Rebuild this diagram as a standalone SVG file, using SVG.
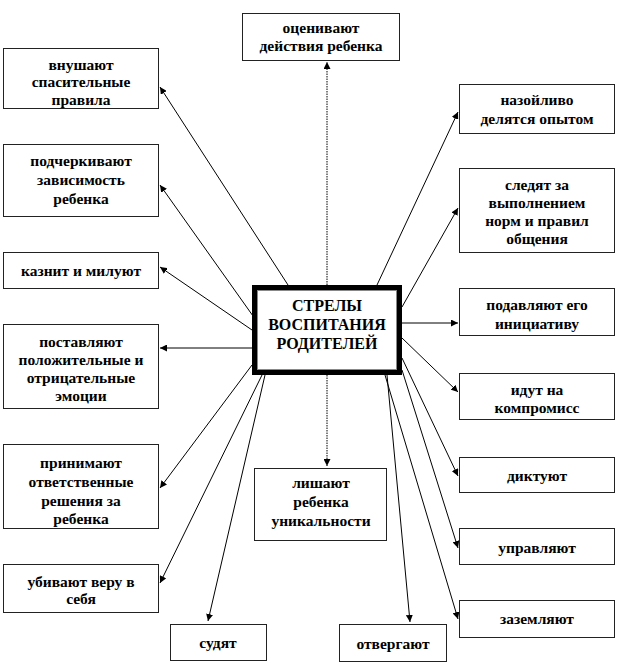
<svg xmlns="http://www.w3.org/2000/svg" width="618" height="672" viewBox="0 0 618 672">
<defs>
<style>
.box{fill:#fff;stroke:#222;stroke-width:1}
.t{font-family:'Liberation Serif',serif;font-weight:bold;font-size:15.5px;fill:#000;text-anchor:middle;dominant-baseline:central}
.ct{font-family:'Liberation Serif',serif;font-weight:bold;font-size:16px;fill:#000;text-anchor:middle;dominant-baseline:central}
.c{stroke:#000;stroke-width:1;fill:none;marker-end:url(#ah)}
.d{stroke-dasharray:1.5,1}
</style>
<marker id="ah" viewBox="0 0 10 10" refX="10" refY="5" markerWidth="7" markerHeight="7" markerUnits="userSpaceOnUse" orient="auto">
<path d="M0,0 L10,5 L0,10 z" fill="#000"/>
</marker>
</defs>
<rect width="618" height="672" fill="#fff"/>
<g id="connectors">
<line class="c d" x1="327" y1="285" x2="327" y2="62"/>
<line class="c d" x1="327" y1="375" x2="327" y2="466"/>
<line class="c" x1="288" y1="285" x2="160" y2="87"/>
<line class="c" x1="253" y1="316" x2="160" y2="185"/>
<line class="c" x1="252" y1="330" x2="160" y2="267"/>
<line class="c" x1="252" y1="348" x2="160" y2="348"/>
<line class="c" x1="252" y1="365" x2="160" y2="488"/>
<line class="c" x1="262" y1="375" x2="160" y2="583"/>
<line class="c" x1="265" y1="375" x2="208" y2="621"/>
<line class="c" x1="377" y1="285" x2="458" y2="112"/>
<line class="c" x1="402" y1="307" x2="458" y2="208"/>
<line class="c" x1="402" y1="323" x2="458" y2="323"/>
<line class="c" x1="402" y1="338" x2="458" y2="392"/>
<line class="c" x1="402" y1="358" x2="458" y2="476"/>
<line class="c" x1="402" y1="370" x2="458" y2="548"/>
<line class="c" x1="385" y1="375" x2="458" y2="619"/>
<line class="c" x1="387" y1="375" x2="410" y2="622"/>
</g>
<g id="center" font-family="Liberation Serif" font-weight="bold">
<rect x="254.5" y="287.5" width="145" height="85" fill="#fff" stroke="#000" stroke-width="5"/>
<rect x="257.5" y="290.5" width="139" height="79" fill="none" stroke="#888" stroke-width="1"/>
<text class="ct" x="327" y="305">СТРЕЛЫ</text>
<text class="ct" x="327" y="324">ВОСПИТАНИЯ</text>
<text class="ct" x="327" y="343">РОДИТЕЛЕЙ</text>
</g>
<g id="n-ocenivayut" font-family="Liberation Serif" font-weight="bold">
<rect class="box" x="242.5" y="13.5" width="157" height="47"/>
<text class="t" x="321" y="27">оценивают</text>
<text class="t" x="321" y="45">действия ребенка</text>
</g>
<g id="n-vnushayut" font-family="Liberation Serif" font-weight="bold">
<rect class="box" x="3.5" y="48.5" width="155" height="60"/>
<text class="t" x="81" y="64">внушают</text>
<text class="t" x="81" y="81">спасительные</text>
<text class="t" x="81" y="99">правила</text>
</g>
<g id="n-podcherkivayut" font-family="Liberation Serif" font-weight="bold">
<rect class="box" x="3.5" y="144.5" width="155" height="72"/>
<text class="t" x="81" y="160">подчеркивают</text>
<text class="t" x="81" y="179">зависимость</text>
<text class="t" x="81" y="198">ребенка</text>
</g>
<g id="n-kaznit" font-family="Liberation Serif" font-weight="bold">
<rect class="box" x="3.5" y="252.5" width="155" height="36"/>
<text class="t" x="81" y="270">казнит и милуют</text>
</g>
<g id="n-postavlyayut" font-family="Liberation Serif" font-weight="bold">
<rect class="box" x="3.5" y="324.5" width="155" height="84"/>
<text class="t" x="81" y="341">поставляют</text>
<text class="t" x="81" y="359">положительные и</text>
<text class="t" x="81" y="377">отрицательные</text>
<text class="t" x="81" y="395">эмоции</text>
</g>
<g id="n-prinimayut" font-family="Liberation Serif" font-weight="bold">
<rect class="box" x="3.5" y="444.5" width="155" height="84"/>
<text class="t" x="81" y="462">принимают</text>
<text class="t" x="81" y="481">ответственные</text>
<text class="t" x="81" y="500">решения за</text>
<text class="t" x="81" y="518">ребенка</text>
</g>
<g id="n-ubivayut" font-family="Liberation Serif" font-weight="bold">
<rect class="box" x="3.5" y="564.5" width="155" height="48"/>
<text class="t" x="81" y="581">убивают веру в</text>
<text class="t" x="81" y="598">себя</text>
</g>
<g id="n-sudyat" font-family="Liberation Serif" font-weight="bold">
<rect class="box" x="170.5" y="624.5" width="96" height="36"/>
<text class="t" x="218" y="642">судят</text>
</g>
<g id="n-lishayut" font-family="Liberation Serif" font-weight="bold">
<rect class="box" x="254.5" y="468.5" width="132" height="72"/>
<text class="t" x="321" y="482">лишают</text>
<text class="t" x="321" y="501">ребенка</text>
<text class="t" x="321" y="520">уникальности</text>
</g>
<g id="n-otvergayut" font-family="Liberation Serif" font-weight="bold">
<rect class="box" x="339.5" y="624.5" width="107" height="37"/>
<text class="t" x="393" y="643">отвергают</text>
</g>
<g id="n-nazoylivo" font-family="Liberation Serif" font-weight="bold">
<rect class="box" x="459.5" y="84.5" width="155" height="49"/>
<text class="t" x="537" y="99">назойливо</text>
<text class="t" x="537" y="118">делятся опытом</text>
</g>
<g id="n-sledyat" font-family="Liberation Serif" font-weight="bold">
<rect class="box" x="459.5" y="168.5" width="155" height="84"/>
<text class="t" x="537" y="184">следят за</text>
<text class="t" x="537" y="202">выполнением</text>
<text class="t" x="537" y="220">норм и правил</text>
<text class="t" x="537" y="238">общения</text>
</g>
<g id="n-podavlyayut" font-family="Liberation Serif" font-weight="bold">
<rect class="box" x="459.5" y="288.5" width="155" height="47"/>
<text class="t" x="537" y="304">подавляют его</text>
<text class="t" x="537" y="323">инициативу</text>
</g>
<g id="n-idut" font-family="Liberation Serif" font-weight="bold">
<rect class="box" x="459.5" y="373.5" width="155" height="46"/>
<text class="t" x="537" y="389">идут на</text>
<text class="t" x="537" y="407">компромисс</text>
</g>
<g id="n-diktuyut" font-family="Liberation Serif" font-weight="bold">
<rect class="box" x="459.5" y="457.5" width="155" height="35"/>
<text class="t" x="537" y="475">диктуют</text>
</g>
<g id="n-upravlyayut" font-family="Liberation Serif" font-weight="bold">
<rect class="box" x="459.5" y="528.5" width="155" height="36"/>
<text class="t" x="537" y="547">управляют</text>
</g>
<g id="n-zazemlyayut" font-family="Liberation Serif" font-weight="bold">
<rect class="box" x="459.5" y="600.5" width="155" height="37"/>
<text class="t" x="537" y="618">заземляют</text>
</g>
</svg>
